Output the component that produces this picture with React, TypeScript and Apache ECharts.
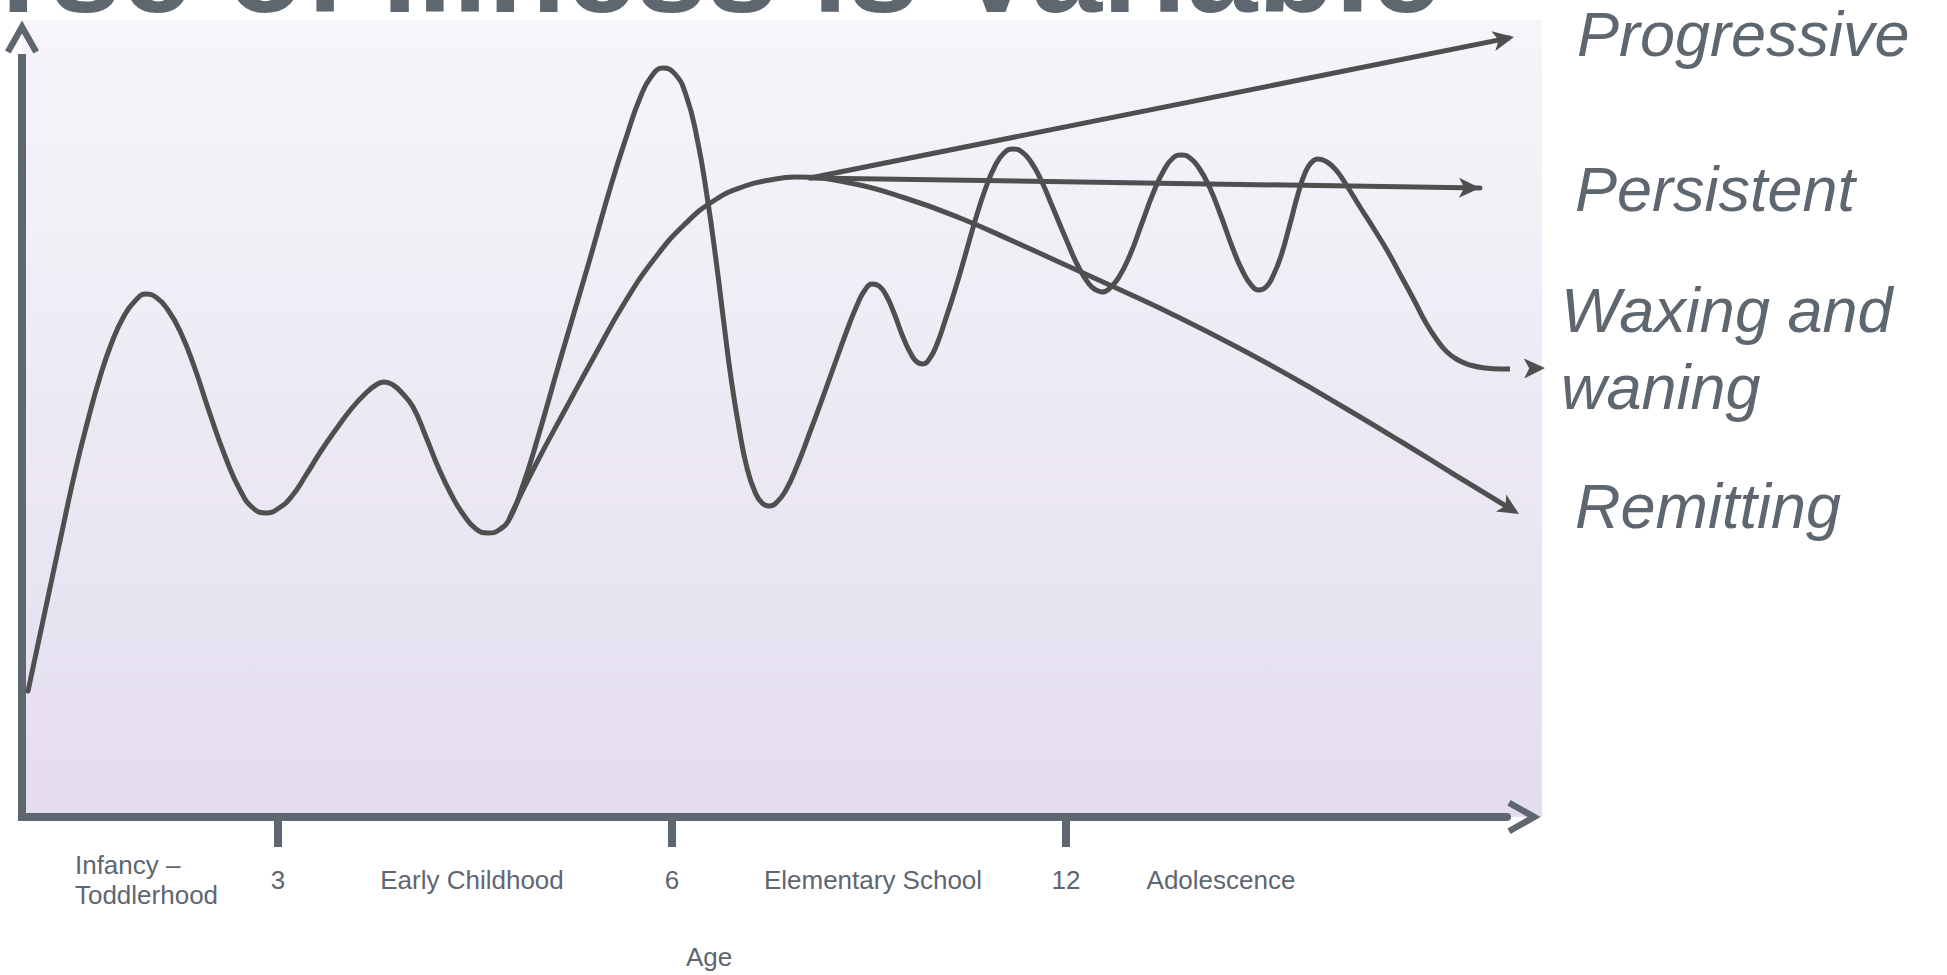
import React, { useEffect, useRef } from 'react';
import * as echarts from 'echarts';

// Timeline position (x) and severity (y) for each course of illness
const waxingWaning: [number, number][] = [
  [6, 126], [22, 201], [38, 276], [53, 345], [66, 397], [78, 440], [90, 475], [102, 501],
  [113, 516], [124, 523], [135, 519], [146, 507], [158, 486], [172, 451], [188, 403], [203, 361],
  [218, 327], [231, 309], [244, 304], [257, 309], [270, 321], [284, 342], [299, 366], [315, 389],
  [330, 409], [344, 424], [354, 432], [362, 435], [371, 432], [380, 424], [391, 410], [404, 380],
  [417, 348], [429, 323], [441, 303], [454, 288], [466, 284], [477, 287], [488, 299], [501, 332],
  [514, 373], [539, 460], [565, 548], [590, 635], [605, 682], [618, 719], [629, 740], [641, 749],
  [653, 743], [664, 722], [675, 679], [685, 621], [694, 557], [702, 493], [709, 439], [717, 389],
  [725, 349], [733, 325], [740, 314], [747, 311], [755, 315], [764, 327], [775, 351], [788, 385],
  [802, 423], [816, 462], [827, 492], [836, 514], [843, 527], [850, 533], [857, 531], [864, 522],
  [872, 504], [881, 480], [889, 463], [895, 455], [901, 453], [908, 459], [915, 473], [923, 496],
  [933, 527], [943, 561], [953, 596], [963, 627], [973, 651], [982, 664], [991, 668], [1000, 665],
  [1009, 655], [1019, 637], [1031, 609], [1044, 578], [1056, 551], [1067, 533], [1074, 527],
  [1080, 525], [1088, 529], [1097, 540], [1108, 562], [1120, 594], [1132, 626], [1142, 647],
  [1151, 659], [1159, 662], [1168, 659], [1177, 649], [1187, 631], [1199, 601], [1211, 568],
  [1221, 545], [1230, 531], [1237, 527], [1244, 530], [1251, 541], [1259, 561], [1268, 593],
  [1276, 623], [1283, 644], [1289, 654], [1296, 658], [1305, 655], [1314, 647], [1325, 631],
  [1338, 610], [1352, 588], [1366, 565], [1379, 541], [1392, 517], [1404, 494], [1415, 477],
  [1425, 465], [1436, 457], [1448, 452], [1463, 449], [1479, 448], [1523, 449],
];

const remitting: [number, number][] = [
  [488, 300], [513, 351], [543, 407], [573, 462], [603, 515], [633, 559], [663, 593], [693, 617],
  [723, 631], [748, 637], [773, 640], [828, 634], [883, 619], [938, 599], [993, 575], [1048, 550],
  [1103, 525], [1158, 499], [1213, 471], [1268, 441], [1323, 409], [1378, 376], [1433, 342],
  [1497, 303],
];

const progressive: [number, number][] = [[788, 639], [1492, 780]];
const persistent: [number, number][] = [[788, 639], [1458, 629]];

// Age ticks and developmental stages along the timeline
const ageTickPositions = [256, 650, 1044];
const ageTickLabels = ['3', '6', '12'];
const stagePositions = [124.5, 450, 851, 1199];
const stageLabels = ['Infancy –\nToddlerhood', 'Early Childhood', 'Elementary School', 'Adolescence'];

const courseLabels = ['Progressive', 'Persistent', 'Waxing and\nwaning', 'Remitting'];
const titleText = 'Course of Illness is Variable';
const axisName = 'Age';

const X_MAX = 1485;
const Y_MAX = 759;
const AXIS_COLOR = '#5e6670';
const LINE_COLOR = '#4f4f4f';
const FONT = "'Liberation Sans', Arial, Helvetica, sans-serif";
const CHEVRON = 'path://M17,0L34,30L28.4,33.2L17,13L5.6,33.2L0,30Z';

const labelByValue = new Map<number, string>();
ageTickPositions.forEach((v, i) => labelByValue.set(v, ageTickLabels[i]));
stagePositions.forEach((v, i) => labelByValue.set(v, stageLabels[i]));

type Course = { name: string; data: [number, number][]; smooth: number | boolean };
const courses: Course[] = [
  { name: 'Waxing and waning', data: waxingWaning, smooth: 0.5 },
  { name: 'Remitting', data: remitting, smooth: 0.5 },
  { name: 'Progressive', data: progressive, smooth: false },
  { name: 'Persistent', data: persistent, smooth: false },
];

function courseSeries(c: Course, data: any[]) {
  return {
    name: c.name,
    type: 'line',
    data,
    smooth: c.smooth,
    clip: false,
    showSymbol: true,
    symbol: 'none',
    silent: true,
    itemStyle: { color: LINE_COLOR },
    lineStyle: { color: LINE_COLOR, width: 5, cap: 'round', join: 'round' },
    emphasis: { disabled: true },
  };
}

export default function App() {
  const ref = useRef<HTMLDivElement>(null);

  useEffect(() => {
    if (!ref.current) return;
    const chart = echarts.init(ref.current, undefined, { renderer: 'svg' });

    const courseText = (text: string, x: number, y: number, vAlign: string) => ({
      type: 'text',
      x,
      y,
      z: 5,
      style: {
        text,
        fill: AXIS_COLOR,
        fontFamily: FONT,
        fontStyle: 'italic',
        fontSize: 63,
        lineHeight: 77,
        align: 'left',
        verticalAlign: vAlign,
      },
    });

    chart.setOption({
      animation: false,
      backgroundColor: '#ffffff',
      grid: {
        left: 22,
        right: 1947 - 22 - X_MAX,
        top: 58,
        bottom: 975 - 817,
        containLabel: false,
        outerBoundsMode: 'none',
      },
      xAxis: {
        type: 'value',
        min: 0,
        max: X_MAX,
        name: axisName,
        nameLocation: 'middle',
        nameGap: 127,
        nameTextStyle: {
          color: AXIS_COLOR,
          fontFamily: FONT,
          fontSize: 26,
          padding: [0, 111, 0, 0],
        },
        axisLine: {
          show: true,
          symbol: ['none', CHEVRON],
          symbolSize: [34, 34],
          symbolOffset: [0, 17],
          lineStyle: { color: AXIS_COLOR, width: 8 },
        },
        axisTick: {
          show: true,
          customValues: ageTickPositions,
          length: 30,
          lineStyle: { color: AXIS_COLOR, width: 8 },
        },
        axisLabel: {
          show: true,
          customValues: [...stagePositions, ...ageTickPositions].sort((a, b) => a - b),
          margin: 63,
          verticalAlign: 'middle',
          color: AXIS_COLOR,
          fontFamily: FONT,
          fontSize: 26,
          lineHeight: 30,
          hideOverlap: false,
          formatter: (v: number) => {
            const s = labelByValue.get(v) ?? '';
            return s.includes('\n') ? s.split('\n').map((l) => `{l|${l}}`).join('\n') : s;
          },
          rich: {
            l: { align: 'left', color: AXIS_COLOR, fontFamily: FONT, fontSize: 26, lineHeight: 30 },
          },
        },
        splitLine: { show: false },
      },
      yAxis: {
        type: 'value',
        min: 0,
        max: Y_MAX,
        axisLine: {
          show: true,
          symbol: ['none', CHEVRON],
          symbolSize: [34, 34],
          symbolOffset: [0, 21],
          lineStyle: { color: AXIS_COLOR, width: 8, cap: 'square' },
        },
        axisTick: { show: false },
        axisLabel: { show: false },
        splitLine: { show: false },
      },
      graphic: [
        {
          type: 'rect',
          z: -10,
          silent: true,
          shape: { x: 22, y: 20, width: 1520, height: 797 },
          style: {
            fill: new echarts.graphic.LinearGradient(0, 0, 0, 1, [
              { offset: 0, color: '#f7f5fa' },
              { offset: 1, color: '#e3ddee' },
            ]),
          },
        },
        {
          type: 'text',
          x: -246,
          y: -32,
          z: 5,
          style: {
            text: titleText,
            fill: AXIS_COLOR,
            fontFamily: FONT,
            fontWeight: 'bold',
            fontSize: 127,
            align: 'left',
            verticalAlign: 'middle',
          },
        },
        courseText(courseLabels[0], 1577, 34, 'middle'),
        courseText(courseLabels[1], 1575, 189, 'middle'),
        courseText(courseLabels[2], 1561, 271, 'top'),
        courseText(courseLabels[3], 1575, 506, 'middle'),
      ],
      series: courses.map((c) => courseSeries(c, c.data)),
    });

    // Arrowhead at the end of each course, turned along its last segment
    const withArrow = (pts: [number, number][]) => {
      const n = pts.length;
      const a = chart.convertToPixel({ gridIndex: 0 }, pts[n - 2]) as number[];
      const b = chart.convertToPixel({ gridIndex: 0 }, pts[n - 1]) as number[];
      const angle = (Math.atan2(-(b[1] - a[1]), b[0] - a[0]) * 180) / Math.PI - 90;
      return pts.map((p, i) =>
        i === n - 1
          ? { value: p, symbol: 'arrow', symbolSize: [15, 21], symbolRotate: angle }
          : p
      );
    };
    chart.setOption({
      series: courses.map((c) => courseSeries(c, withArrow(c.data))),
    });

    return () => chart.dispose();
  }, []);

  return (
    <div
      ref={ref}
      style={{ position: 'absolute', left: 0, top: 0, width: 1947, height: 975 }}
    />
  );
}
